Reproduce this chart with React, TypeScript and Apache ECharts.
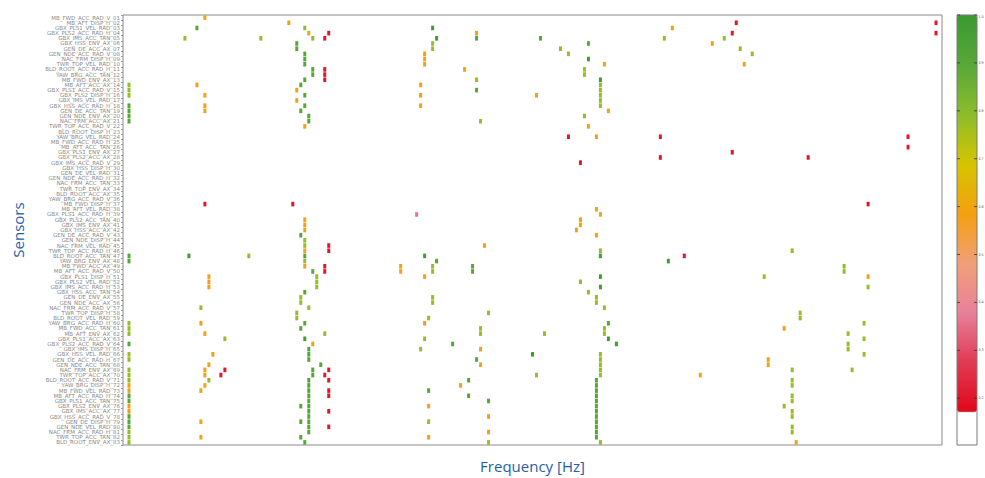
import React, { useEffect, useRef } from "react";
import * as echarts from "echarts";

// ---- categories ----
const FREQ_BINS = 205;
const locations = ["MB_FWD", "MB_AFT", "GBX_PLS1", "GBX_PLS2", "GBX_IMS", "GBX_HSS", "GEN_DE", "GEN_NDE", "NAC_FRM", "TWR_TOP", "BLD_ROOT", "YAW_BRG"];
const directions = ["ACC_RAD_V", "ACC_RAD_H", "ACC_AX", "VEL_RAD", "ENV_AX", "DISP_H", "ACC_TAN"];
const sensors: string[] = Array.from({ length: 83 }, (_, i) =>
  `${locations[i % locations.length]}_${directions[(i * 5) % directions.length]}_${String(i + 1).padStart(2, "0")}`
);

// ---- cell values by level (value of the colour scale) ----
const LEVEL_RED = 0.2;
const LEVEL_PINK = 0.36;
const LEVEL_ORANGE = 0.58;
const LEVEL_YELLOWGREEN = 0.78;
const LEVEL_GREEN = 0.9;
const LEVEL_DARKGREEN = 0.98;

// [frequency bin, sensor row]
const redCells = [[153,1],[203,1],[51,3],[152,3],[203,3],[50,4],[50,10],[50,11],[50,12],[111,23],[134,23],[196,23],[196,25],[152,26],[134,27],[171,27],[114,28],[20,36],[42,36],[186,36],[51,44],[51,45],[140,46],[50,48],[50,49],[51,68],[50,69],[51,70],[25,68],[24,69],[51,72],[51,73],[51,76],[51,79]];
const pinkCells = [[73,38]];
const orangeCells = [[20,0],[41,1],[137,2],[46,3],[88,3],[147,5],[75,7],[75,8],[75,9],[120,9],[155,9],[85,10],[18,13],[74,13],[43,14],[20,15],[74,15],[103,15],[43,16],[20,17],[20,18],[74,17],[121,18],[45,21],[116,21],[118,23],[118,37],[119,38],[45,39],[45,40],[45,41],[114,39],[114,40],[113,41],[118,42],[45,45],[45,48],[90,44],[69,48],[69,49],[21,50],[21,51],[21,52],[75,50],[186,50],[19,59],[75,59],[165,60],[20,61],[47,63],[89,64],[22,65],[161,66],[161,67],[21,67],[89,67],[20,68],[20,69],[144,69],[1,71],[1,72],[20,71],[84,71],[19,72],[76,75],[1,75],[1,76],[91,77],[19,78],[91,80],[19,81],[76,81],[168,82]];
const yellowGreenCells = [[45,2],[15,4],[34,4],[47,4],[135,4],[150,4],[77,5],[77,6],[109,6],[154,6],[111,7],[157,7],[115,10],[115,11],[88,12],[119,13],[119,14],[119,15],[119,16],[119,17],[1,13],[1,14],[1,15],[115,19],[89,20],[45,43],[45,44],[45,47],[119,45],[167,45],[31,46],[77,48],[77,49],[180,48],[180,49],[48,50],[48,51],[48,52],[160,50],[114,51],[186,52],[116,53],[44,54],[44,55],[77,54],[77,55],[118,54],[118,55],[46,56],[19,56],[120,56],[43,57],[43,58],[91,57],[169,57],[169,58],[76,58],[1,59],[1,60],[1,61],[185,59],[89,60],[89,61],[120,60],[120,61],[50,61],[105,61],[181,61],[25,62],[75,62],[185,62],[181,63],[181,64],[74,64],[1,65],[1,66],[119,65],[119,66],[119,67],[119,68],[119,69],[185,65],[182,68],[167,68],[103,69],[21,70],[167,70],[167,71],[1,68],[1,69],[1,70],[167,73],[167,74],[165,75],[167,76],[167,77],[76,78],[167,79],[167,80],[1,80],[1,81],[1,82],[91,82],[119,82]];
const greenCells = [[18,2],[104,4],[88,4],[43,5],[43,6],[116,5],[45,7],[45,8],[45,9],[47,10],[47,11],[45,12],[44,13],[88,14],[45,15],[45,17],[1,17],[1,18],[1,19],[1,20],[44,18],[46,19],[46,20],[44,42],[45,46],[1,46],[1,47],[78,47],[87,48],[87,49],[47,49],[45,53],[45,59],[121,59],[44,60],[82,63],[1,63],[46,64],[46,65],[46,66],[88,66],[49,67],[47,68],[47,69],[86,70],[46,70],[46,71],[46,72],[46,73],[46,74],[46,75],[46,76],[46,77],[46,78],[46,79],[46,80],[118,70],[118,71],[118,72],[118,73],[118,74],[118,75],[118,76],[118,77],[118,78],[118,79],[118,80],[118,81],[76,72],[86,73],[1,73],[1,74],[91,74],[44,75],[44,78],[1,77],[1,78],[1,79],[44,81],[45,82]];
const darkGreenCells = [[77,2],[78,4],[116,8],[119,12],[119,46],[16,46],[75,46],[136,47],[119,50],[119,52],[45,62],[121,62],[123,63],[102,65]];

// colour bar
const colorbarTicks = ["1.0", "0.9", "0.8", "0.7", "0.6", "0.5", "0.4", "0.3", "0.2"];
const scaleColors = ["#e0081a", "#e03a52", "#e8809a", "#f0a078", "#f4a010", "#d6c400", "#8cbc2c", "#58a838", "#3a9a30"];

const levels: [number[][], number][] = [
  [redCells, LEVEL_RED],
  [pinkCells, LEVEL_PINK],
  [orangeCells, LEVEL_ORANGE],
  [yellowGreenCells, LEVEL_YELLOWGREEN],
  [greenCells, LEVEL_GREEN],
  [darkGreenCells, LEVEL_DARKGREEN],
];

export default function App() {
  const ref = useRef<HTMLDivElement>(null);
  useEffect(() => {
    const chart = echarts.init(ref.current!, null, { renderer: "svg" });
    const data: number[][] = [];
    levels.forEach(([cells, v]) => cells.forEach(([c, r]) => data.push([c + 0.5, r, v])));

    const cbTop = 15, cbLeft = 957, cbW = 20, cbGrad = 397, cbTotal = 430, tickStep = 47.9;
    const graphics: any[] = [
      { type: "rect", z: 100, shape: { x: cbLeft, y: cbTop, width: cbW, height: cbTotal }, style: { fill: "none", stroke: "#7a7a7a", lineWidth: 1 } },
      { type: "line", z: 100, shape: { x1: cbLeft, y1: cbTop + cbGrad, x2: cbLeft + cbW, y2: cbTop + cbGrad }, style: { stroke: "#bbb", lineWidth: 0.5 } },
    ];
    colorbarTicks.forEach((t, k) => {
      const y = cbTop + k * tickStep;
      graphics.push({ type: "line", z: 100, shape: { x1: cbLeft, y1: y, x2: cbLeft + 3, y2: y }, style: { stroke: "#333", lineWidth: 0.8 } });
      graphics.push({ type: "line", z: 100, shape: { x1: cbLeft + cbW - 3, y1: y, x2: cbLeft + cbW, y2: y }, style: { stroke: "#333", lineWidth: 0.8 } });
      graphics.push({ type: "text", z: 100, x: 978.5, y: Math.max(y, 17), style: { text: t, fontSize: 3.6, fill: "#555", verticalAlign: "middle", fontFamily: "DejaVu Sans Condensed" } });
    });

    chart.setOption({
      animation: false,
      backgroundColor: "#ffffff",
      grid: { left: 123, top: 15, width: 819, height: 430, show: true, borderColor: "#8a8a8a", borderWidth: 1, containLabel: false },
      xAxis: {
        type: "value", min: 0, max: FREQ_BINS,
        name: "Frequency [Hz]", nameLocation: "middle", nameGap: 13,
        nameTextStyle: { color: "#1f5ea8", fontSize: 15, fontFamily: "Open Sans" },
        axisLabel: { show: false }, axisTick: { show: false }, axisLine: { show: false }, splitLine: { show: false },
      },
      yAxis: {
        type: "category", data: sensors, inverse: true,
        name: "Sensors", nameLocation: "middle", nameGap: 98, nameRotate: 90,
        nameTextStyle: { color: "#1f5ea8", fontSize: 15, fontFamily: "Open Sans" },
        axisLabel: { interval: 0, fontSize: 5.5, color: "#8a8a8a", margin: 3, fontFamily: "DejaVu Sans" },
        axisTick: { show: true, length: 2, lineStyle: { color: "#999" } },
        axisLine: { show: false }, splitLine: { show: false },
      },
      visualMap: {
        type: "continuous", min: 0.17, max: 1, dimension: 2, seriesIndex: 0,
        left: cbLeft, top: cbTop, itemWidth: cbW, itemHeight: cbGrad, padding: 0,
        calculable: false, hoverLink: false, showLabel: false, text: null,
        inRange: { color: scaleColors },
      },
      graphic: graphics,
      series: [{
        type: "scatter", data, symbol: "rect", symbolSize: [3, 4.6],
        itemStyle: { opacity: 1 }, silent: true,
      }],
    });
    return () => chart.dispose();
  }, []);
  return <div ref={ref} style={{ position: "fixed", left: 0, top: 0, width: 985, height: 478, background: "#fff" }} />;
}
